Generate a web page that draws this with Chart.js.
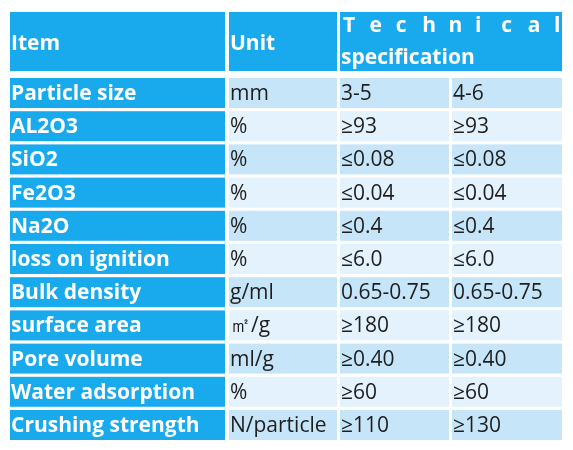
<!DOCTYPE html>
<html>
<head>
<meta charset="utf-8">
<script src="https://cdn.jsdelivr.net/npm/chart.js@4"></script>
<style>
  html, body { margin: 0; padding: 0; background: #fff; }
  #wrap { width: 573px; height: 450px; }
</style>
</head>
<body>
<div id="wrap"><canvas id="table"></canvas></div>
<script>
// table data
const items = ['Particle size', 'AL2O3', 'SiO2', 'Fe2O3', 'Na2O', 'loss on ignition',
  'Bulk density', 'surface area', 'Pore volume', 'Water adsorption', 'Crushing strength'];
const units = ['mm', '%', '%', '%', '%', '%', 'g/ml', '㎡/g', 'ml/g', '%', 'N/particle'];
const specA = ['3-5', '≥93', '≤0.08', '≤0.04', '≤0.4', '≤6.0', '0.65-0.75', '≥180', '≥0.40', '≥60', '≥110'];
const specB = ['4-6', '≥93', '≤0.08', '≤0.04', '≤0.4', '≤6.0', '0.65-0.75', '≥180', '≥0.40', '≥60', '≥130'];
const headers = ['Item', 'Unit', 'Technical', 'specification'];

// layout (page pixels)
const colEdges = [[10, 225], [229, 337], [340, 449], [452, 562]];
const headTop = 12, headBottom = 71;
const rowTop = 78, rowStep = 33.2, rowH = 30;

const BLUE = '#19aaee';
const ROW_COLORS = ['#c6e5f9', '#e3f2fc'];
const FONT = '"Open Sans", Lato, sans-serif';

const tablePlugin = {
  id: 'tablePlugin',
  afterDraw(chart) {
    const { ctx, scales: { x, y } } = chart;
    const px = v => x.getPixelForValue(v);
    const py = v => y.getPixelForValue(v);
    const rect = (x0, y0, x1, y1, c) => {
      ctx.fillStyle = c;
      ctx.fillRect(px(x0), py(y0), px(x1) - px(x0), py(y1) - py(y0));
    };
    ctx.save();
    ctx.textBaseline = 'middle';
    // header
    rect(colEdges[0][0], headTop, colEdges[0][1], headBottom, BLUE);
    rect(colEdges[1][0], headTop, colEdges[1][1], headBottom, BLUE);
    rect(colEdges[2][0], headTop, colEdges[3][1], headBottom, BLUE);
    ctx.fillStyle = '#fff';
    ctx.font = 'bold 21px ' + FONT;
    ctx.fillText(headers[0], px(colEdges[0][0] + 1), py(44));
    ctx.fillText(headers[1], px(colEdges[1][0] + 1), py(44));
    // spaced "Technical"
    const letters = headers[2].split('');
    const l0 = colEdges[2][0] + 3, l1 = colEdges[3][1] - 8;
    letters.forEach((ch, i) => {
      ctx.fillText(ch, px(l0 + (l1 - l0) * i / (letters.length - 1)), py(26));
    });
    ctx.fillText(headers[3], px(colEdges[2][0] + 1), py(58));
    // body rows
    items.forEach((item, r) => {
      const t = rowTop + r * rowStep, b = t + rowH, mid = (t + b) / 2 + 1;
      rect(colEdges[0][0], t, colEdges[0][1], b, BLUE);
      for (let c = 1; c < 4; c++) rect(colEdges[c][0], t, colEdges[c][1], b, ROW_COLORS[r % 2]);
      ctx.fillStyle = '#fff';
      ctx.font = 'bold 21px ' + FONT;
      ctx.fillText(item, px(colEdges[0][0] + 1), py(mid));
      ctx.fillStyle = '#1e1e1e';
      ctx.font = '21px ' + FONT;
      ctx.fillText(units[r], px(colEdges[1][0] + 1), py(mid));
      ctx.fillText(specA[r], px(colEdges[2][0] + 1), py(mid));
      ctx.fillText(specB[r], px(colEdges[3][0] + 1), py(mid));
    });
    ctx.restore();
  }
};

new Chart(document.getElementById('table'), {
  type: 'scatter',
  data: { datasets: [{ data: [] }] },
  options: {
    responsive: true,
    maintainAspectRatio: false,
    animation: false,
    layout: { padding: 0 },
    plugins: { legend: { display: false }, tooltip: { enabled: false } },
    scales: {
      x: { type: 'linear', min: 0, max: 573, display: false },
      y: { type: 'linear', min: 0, max: 450, reverse: true, display: false }
    }
  },
  plugins: [tablePlugin]
});
</script>
</body>
</html>
